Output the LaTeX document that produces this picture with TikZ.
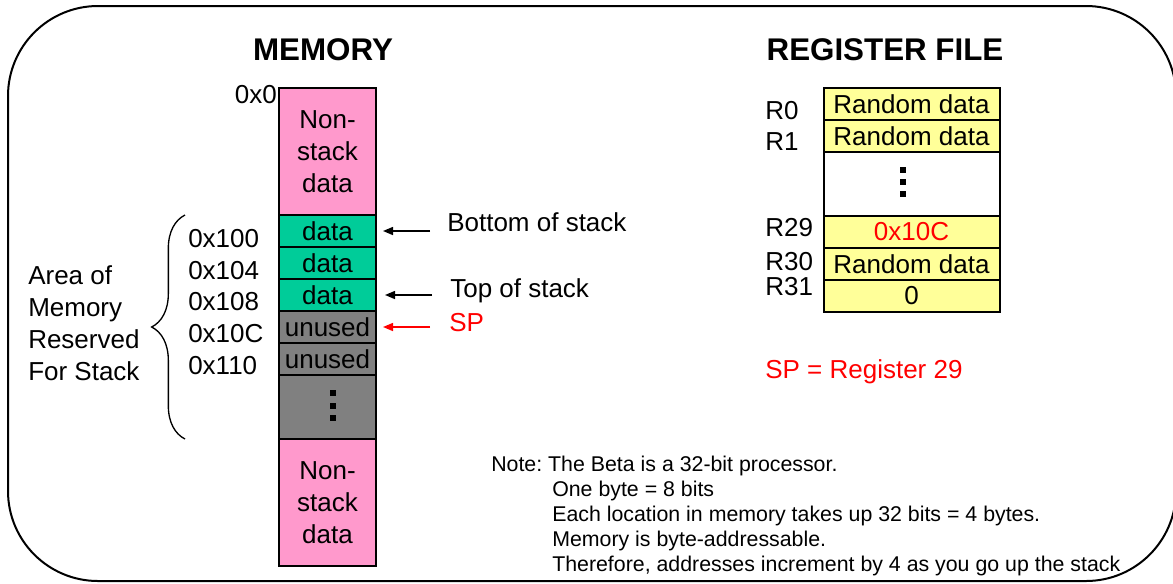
\documentclass[tikz,border=0pt]{standalone}
\usepackage{fontspec}
\setmainfont{Liberation Sans}
\usepackage{xcolor}
\usepackage{tikz}
\usetikzlibrary{arrows.meta, positioning, decorations.pathreplacing, calc}
\definecolor{stackpink}{RGB}{255, 153, 204}
\definecolor{stackgreen}{RGB}{0, 204, 153}
\definecolor{stackgray}{RGB}{128, 128, 128}
\definecolor{regyellow}{RGB}{255, 255, 153}
\definecolor{spred}{RGB}{255, 0, 0}
\frenchspacing

\begin{document}
\begin{tikzpicture}[x=0.75pt, y=-0.75pt,
  txt/.style={font=\fontsize{19.5}{24}\selectfont, inner sep=0pt},
  notetxt/.style={font=\fontsize{16}{18.75}\selectfont, inner sep=0pt, align=left},
  title/.style={font=\fontsize{23.5}{28}\selectfont\bfseries, inner sep=0pt},
  cell/.style={draw=black, line width=1.5pt, minimum width=72.75pt, minimum height=24pt, inner sep=0pt, outer sep=0pt, align=center, font=\fontsize{19.5}{24}\selectfont},
  pinkcell/.style={cell, fill=stackpink, minimum height=95.25pt},
  datacell/.style={cell, fill=stackgreen},
  freecell/.style={cell, fill=stackgray},
  regcell/.style={cell, fill=regyellow, minimum width=132pt},
  dot/.style={fill=black, minimum size=4pt, inner sep=0pt, outer sep=0pt},
  ptr/.style={-{Triangle[length=7.5pt, width=6pt]}, line width=1.1pt},
  brace/.style={decorate, decoration={brace, amplitude=25pt}, line width=1pt}
]

\useasboundingbox (0,0) rectangle (1173,583);
\clip (0,0) rectangle (1173,583);

% Outer frame
\draw[line width=1.5pt, rounded corners=67.5pt] (8,6) rectangle (1176,581);

% Titles
\node[title, anchor=base] (memTitle) at (323,60) {MEMORY};
\node[title, anchor=base] (regTitle) at (885,60) {REGISTER FILE};

% Memory column
\node[pinkcell] (topPink) at (327.5,151.5) {Non-\\stack\\data};
\node[datacell, below=0pt of topPink] (d1) {data};
\node[datacell, below=0pt of d1] (d2) {data};
\node[datacell, below=0pt of d2] (d3) {data};
\node[freecell, below=0pt of d3] (u1) {unused};
\node[freecell, below=0pt of u1] (u2) {unused};
\node[freecell, minimum height=48pt, below=0pt of u2] (gap) {};
\node[pinkcell, below=0pt of gap] (botPink) {Non-\\stack\\data};

\node[dot] (gd1) at (333,393) {};
\node[dot] (gd2) at (333,406) {};
\node[dot] (gd3) at (333,418) {};

% Addresses
\node[txt, anchor=base east] (a0) at (277,103) {0x0};
\node[txt, anchor=base west] (a100) at (188,247) {0x100};
\node[txt, anchor=base west] (a104) at (188,279) {0x104};
\node[txt, anchor=base west] (a108) at (188,310) {0x108};
\node[txt, anchor=base west] (a10C) at (188,342) {0x10C};
\node[txt, anchor=base west] (a110) at (188,374) {0x110};

% Stack area brace
\coordinate (braceBot) at (185,439);
\coordinate (braceTop) at (185,215);
\draw[brace] (braceBot) -- (braceTop);
\node[txt, anchor=west, align=left] (area) at (28,323) {Area of\\Memory\\Reserved\\For Stack};

% Pointers
\node[txt, anchor=base west] (bottomTxt) at (447,231) {Bottom of stack};
\node[txt, anchor=base west] (topTxt) at (450,297) {Top of stack};
\node[txt, anchor=base west, text=spred] (spTxt) at (449,331) {SP};

\draw[ptr, shorten <=12.75pt, shorten >=5.25pt] (d1.east -| bottomTxt.west) -- (d1.east);
\draw[ptr, shorten <=13.5pt, shorten >=6.75pt] (d3.east -| topTxt.west) -- (d3.east);
\draw[ptr, spred, shorten <=14.25pt, shorten >=5.25pt] (u1.east -| spTxt.west) -- (u1.east);

% Register file
\node[regcell] (r0) at (911.5,104) {Random data};
\node[regcell, below=0pt of r0] (r1) {Random data};
\node[regcell, fill=white, minimum height=48pt, below=0pt of r1] (rGap) {};
\node[regcell, text=spred, below=0pt of rGap] (r29) {0x10C};
\node[regcell, below=0pt of r29] (r30) {Random data};
\node[regcell, below=0pt of r30] (r31) {0};

\node[dot] (rd1) at (903,170) {};
\node[dot] (rd2) at (903,182) {};
\node[dot] (rd3) at (903,194) {};

\node[txt, anchor=base west] (l0) at (765,119) {R0};
\node[txt, anchor=base west] (l1) at (765,150) {R1};
\node[txt, anchor=base west] (l29) at (765,236) {R29};
\node[txt, anchor=base west] (l30) at (765,270) {R30};
\node[txt, anchor=base west] (l31) at (765,295) {R31};

\node[txt, anchor=base west, text=spred] (spReg) at (765,378) {SP = Register 29};

% Note
\node[notetxt, anchor=north west] (note) at (491,456) {Note: The Beta is a 32-bit processor.\\
\hspace*{45.75pt}One byte = 8 bits\\
\hspace*{45.75pt}Each location in memory takes up 32 bits = 4 bytes.\\
\hspace*{45.75pt}Memory is byte-addressable.\\
\hspace*{45.75pt}Therefore, addresses increment by 4 as you go up the stack};

\end{tikzpicture}
\end{document}
